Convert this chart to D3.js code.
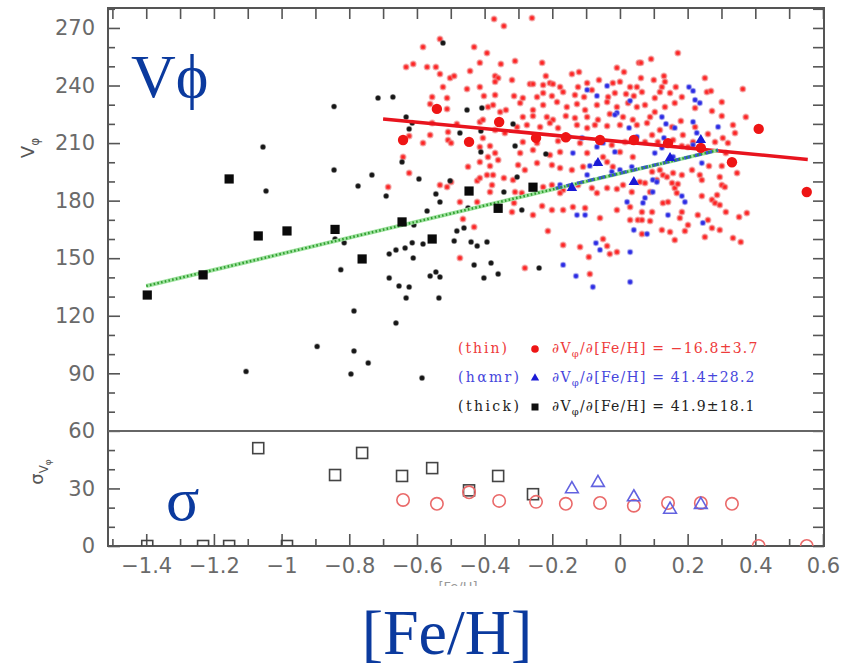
<!DOCTYPE html>
<html>
<head>
<meta charset="utf-8">
<script src="https://cdn.jsdelivr.net/npm/d3@7/dist/d3.min.js"></script>
<style>
  body { margin: 0; background: #fff; }
  svg { display: block; }
</style>
</head>
<body>
<div id="chart"></div>
<script>
// ---- data ([Fe/H], V_phi in km/s) ----
const xTickValues = [-1.4, -1.2, -1, -0.8, -0.6, -0.4, -0.2, 0, 0.2, 0.4, 0.6];
const xTickLabels = ["−1.4", "−1.2", "−1", "−0.8", "−0.6", "−0.4", "−0.2", "0", "0.2", "0.4", "0.6"];
const xMinorValues = [-1.5, -1.3, -1.1, -0.9, -0.7, -0.5, -0.3, -0.1, 0.1, 0.3, 0.5];
const yTickValues = [0, 30, 60, 90, 120, 150, 180, 210, 240, 270];
const yMinorValues = [10, 20, 40, 50, 70, 80, 100, 110, 130, 140, 160, 170, 190, 200, 220, 230, 250, 260, 280];

// thin disc stars (small red dots)
const thinStars = [
  [-0.372,274.7],[-0.343,271.0],[-0.532,264.3],[-0.582,260.1],[-0.431,260.1],[-0.393,257.0],[-0.414,251.8],[-0.352,251.2],
  [-0.632,249.7],[-0.611,251.2],[-0.570,249.7],[-0.544,249.7],[-0.532,246.0],[-0.502,243.9],[-0.490,245.0],[-0.443,247.6],
  [-0.369,245.0],[-0.360,243.9],[-0.369,241.9],[-0.523,239.2],[-0.452,238.2],[-0.414,239.2],[-0.555,234.0],[-0.511,233.5],
  [-0.402,234.6],[-0.369,235.1],[-0.561,230.4],[-0.511,227.8],[-0.375,229.9],[-0.390,228.8],[-0.354,226.2],[-0.337,227.3],
  [-0.555,220.5],[-0.482,220.0],[-0.414,221.0],[-0.405,222.1],[-0.561,214.2],[-0.508,215.8],[-0.369,216.8],[-0.340,215.3],
  [-0.623,213.7],[-0.582,210.1],[-0.508,211.6],[-0.499,210.1],[-0.405,212.7],[-0.384,208.5],[-0.369,204.8],[-0.390,202.8],
  [-0.360,201.2],[-0.414,208.0],[-0.641,202.8],
  [-0.623,194.4],[-0.685,187.1],[-0.532,188.2],[-0.511,187.1],[-0.499,189.7],[-0.449,197.6],[-0.414,200.2],[-0.384,198.1],
  [-0.422,190.3],[-0.414,191.8],[-0.393,193.4],[-0.375,193.4],[-0.378,188.2],[-0.384,184.5],[-0.343,191.8],[-0.473,179.3],
  [-0.422,179.3],[-0.464,170.4],[-0.431,166.3],[-0.473,150.1],
  [-0.260,275.2],[-0.310,252.8],[-0.230,251.8],[-0.219,245.0],[-0.142,246.0],[-0.121,247.1],[-0.009,249.2],[0.012,247.1],
  [0.056,251.8],[-0.319,242.9],[-0.266,240.8],[-0.257,240.8],[-0.227,240.3],[-0.207,241.3],[-0.198,240.8],[-0.177,239.2],
  [-0.124,239.2],[-0.097,241.3],[-0.062,242.9],[-0.021,241.3],[0.000,241.9],[0.030,239.2],[0.050,239.2],[-0.313,234.6],
  [-0.287,233.5],[-0.245,234.0],[-0.227,236.1],[-0.201,234.6],[-0.168,236.6],[-0.133,235.1],[-0.106,234.0],[-0.083,237.7],
  [-0.035,234.0],[-0.015,236.1],[0.018,235.6],[0.041,234.6],[-0.295,230.9],[-0.257,227.3],[-0.227,229.9],[-0.186,231.4],
  [-0.157,228.8],[-0.127,230.4],[-0.103,227.3],[-0.068,229.9],[-0.038,231.4],[-0.009,228.8],[0.024,230.9],[0.050,228.8],
  [-0.287,223.6],[-0.257,224.1],[-0.216,223.6],[-0.198,222.1],[-0.160,224.1],[-0.133,223.1],[-0.097,223.6],[-0.065,222.1],
  [-0.030,225.2],[0.009,223.6],[0.038,222.1],[-0.304,218.4],[-0.275,219.4],[-0.236,218.4],[-0.207,220.5],[-0.183,217.9],
  [-0.127,219.4],[-0.097,217.9],[-0.074,219.4],[-0.038,218.9],[0.000,219.4],[0.050,219.4],[-0.287,210.6],[-0.245,210.1],
  [-0.183,211.1],[-0.118,210.1],[-0.024,209.0],[0.015,210.6],[-0.295,204.8],[-0.257,206.4],[-0.207,203.8],[-0.177,205.4],
  [-0.097,204.8],[-0.050,202.8],[0.000,205.4],[0.038,202.8],
  [0.171,257.0],[0.092,253.8],[0.062,251.8],[0.251,243.9],[0.100,242.9],[0.130,245.0],[0.133,241.9],[0.062,243.9],
  [0.363,238.2],[0.165,239.2],[0.124,239.2],[0.118,236.6],[0.148,236.1],[0.183,234.0],[0.257,236.6],[0.269,237.2],
  [0.301,231.4],[0.065,236.6],[0.103,233.5],[0.074,229.9],[0.133,228.8],[0.162,230.9],[0.222,228.3],[0.272,226.7],
  [0.372,223.6],[0.103,226.2],[0.089,223.6],[0.080,220.5],[0.180,221.5],[0.222,218.4],[0.301,224.1],[0.334,219.4],
  [0.340,215.3],[0.154,218.4],[0.118,216.8],[0.095,214.2],[0.186,214.2],[0.260,214.7],[0.304,212.7],[0.157,211.6],
  [0.216,210.6],[0.281,210.6],[0.319,210.1],[0.074,210.6],[0.112,210.6],[0.183,208.5],[0.201,208.0],[0.313,204.8],
  [-0.301,198.6],[-0.281,196.0],[-0.245,199.6],[-0.201,198.6],[-0.177,197.0],[-0.142,196.0],[-0.109,197.6],[-0.038,200.2],
  [-0.021,197.6],[-0.316,190.8],[-0.310,184.5],[-0.290,184.0],[-0.227,187.1],[-0.201,188.2],[-0.168,185.6],[-0.177,184.0],
  [-0.124,188.2],[-0.083,186.6],[-0.068,184.0],[-0.038,186.6],[-0.009,186.1],[0.009,188.2],[0.035,184.5],[-0.319,174.1],
  [-0.230,177.2],[-0.201,175.1],[-0.168,175.1],[-0.139,176.7],[-0.103,176.2],[-0.059,171.0],[-0.009,175.1],[0.030,176.7],
  [0.053,169.9],[-0.213,164.2],[-0.168,156.9],[-0.118,155.9],[-0.092,150.6],[-0.050,160.0],[-0.038,156.4],[-0.030,152.2],
  [-0.009,153.2],[-0.281,144.9],[-0.089,141.8],[0.030,169.9],[-0.313,178.8],[-0.257,172.5],
  [0.095,195.0],[0.118,196.0],[0.127,193.4],[0.139,192.3],[0.157,194.4],[0.183,193.4],[0.213,196.0],[0.236,193.4],
  [0.263,198.1],[0.301,198.1],[0.346,194.4],[0.059,189.7],[0.074,189.2],[0.109,190.8],[0.154,189.2],[0.162,186.6],
  [0.171,188.7],[0.242,190.8],[0.295,192.3],[0.301,188.2],[0.310,187.1],[0.089,184.5],[0.127,178.8],[0.142,179.3],
  [0.168,184.0],[0.242,182.4],[0.272,180.4],[0.287,183.0],[0.281,178.8],[0.295,177.7],[0.065,174.1],[0.095,174.1],
  [0.183,174.1],[0.230,172.5],[0.313,174.1],[0.375,173.6],[0.065,169.9],[0.089,169.4],[0.177,171.0],[0.201,167.3],
  [0.260,169.9],[0.272,165.8],[0.295,164.7],[0.124,164.7],[0.148,163.7],[0.192,164.2],[0.352,171.5],[0.334,160.5],
  [0.357,158.5],[0.251,161.1],[0.162,159.5],[0.065,162.6]
];

// high-alpha metal-rich stars (small blue dots)
const hamrStars = [
  [-0.038,239.8],[-0.068,234.6],[-0.097,237.7],[-0.009,225.7],[0.027,217.9],[-0.151,213.2],[-0.112,212.7],[-0.139,204.8],
  [-0.068,208.0],[0.050,213.2],[0.204,239.2],[0.216,237.2],[0.222,232.5],[0.236,230.9],[0.124,223.6],[0.136,220.0],
  [0.162,217.9],[0.216,221.0],[0.290,218.4],[0.130,212.7],[0.103,204.8],[0.157,202.8],[-0.177,188.2],[-0.127,172.5],
  [-0.103,172.5],[-0.071,157.9],[-0.059,154.3],[0.030,153.2],[-0.168,146.5],[-0.130,140.7],[-0.080,135.0],[0.030,137.6],
  [0.041,164.7],[0.021,179.3],[-0.097,193.4],[-0.068,199.6],[0.000,196.0],[0.242,199.6],[0.097,190.8],[0.109,189.7],
  [0.097,184.5],[0.074,181.4],[0.183,182.4],[0.192,179.3],[0.142,172.5],[0.245,168.4],[0.080,162.6],[0.068,178.8],
  [-0.089,198.1],[-0.024,195.0],[0.035,197.6],[-0.050,210.1],[-0.015,205.4],[0.124,207.5],[0.216,209.0],[0.227,215.3],
  [0.030,232.0],[-0.015,224.7]
];

// thick disc stars (small black dots)
const thickStars = [
  [-1.055,208.0],[-1.046,185.0],[-1.105,91.0],[-0.895,104.0],[-0.845,229.0],[-0.845,196.0],[-0.825,144.0],[-0.815,158.0],
  [-0.842,160.0],[-0.786,122.5],[-0.786,101.6],[-0.795,89.6],[-0.744,95.4],[-0.774,187.6],[-0.733,193.4],[-0.715,233.5],
  [-0.671,234.0],[-0.691,182.4],[-0.682,152.2],[-0.662,154.3],[-0.682,139.7],[-0.653,135.5],[-0.623,135.0],[-0.632,129.3],
  [-0.662,116.2],[-0.585,87.6],[-0.635,155.3],[-0.614,158.0],[-0.611,150.1],[-0.644,200.2],[-0.632,223.6],[-0.623,217.4],
  [-0.614,220.5],[-0.594,191.3],[-0.570,174.6],[-0.609,167.3],[-0.582,157.4],[-0.561,140.7],[-0.544,142.8],[-0.532,140.2],
  [-0.535,129.3],[-0.544,183.5],[-0.532,179.3],[-0.502,190.3],[-0.482,164.2],[-0.461,165.8],[-0.490,159.0],[-0.440,158.5],
  [-0.422,156.4],[-0.393,158.5],[-0.431,146.5],[-0.381,147.5],[-0.360,141.8],[-0.402,139.7],[-0.449,176.2],[-0.343,184.5],
  [-0.523,262.2],[-0.452,227.3],[-0.408,228.3],[-0.316,220.0],[-0.473,215.3],[-0.411,205.4],[-0.310,208.5],[-0.219,204.3],
  [-0.304,192.3],[-0.290,175.1],[-0.239,144.9],[-0.411,216.3]
];

// binned means (big symbols, top) and dispersions (open symbols, bottom)
const thinBinFeH   = [-0.641, -0.541, -0.446, -0.357, -0.248, -0.160, -0.059, 0.041, 0.142, 0.239, 0.331, 0.410, 0.552];
const thinBinV     = [211.6, 227.8, 210.6, 221.0, 212.7, 213.0, 211.6, 211.6, 210.0, 207.5, 200.0, 217.4, 184.5];
const thinBinSigma = [24.0, 22.0, 28.0, 23.5, 23.0, 22.0, 22.4, 21.0, 22.4, 22.4, 22.0, 0, 0];

const hamrBinFeH   = [-0.142, -0.065, 0.041, 0.148, 0.239];
const hamrBinV     = [186.6, 199.6, 189.7, 202.2, 211.6];
const hamrBinSigma = [29.7, 33.0, 25.5, 19.0, 21.5];

const thickBinFeH   = [-1.397, -1.232, -1.155, -1.069, -0.984, -0.842, -0.762, -0.644, -0.555, -0.446, -0.360, -0.257];
const thickBinV     = [130.8, 141.3, 191.3, 161.6, 164.2, 165.0, 149.6, 168.9, 160.0, 185.0, 176.0, 187.0];
const thickBinSigma = [0, 0, 0, 51.0, 0, 37.0, 48.5, 36.5, 40.6, 29.0, 36.5, 27.0];

// linear fits: [intercept, slope] and [Fe/H] range
const thinFit  = { coef: [210.8, -16.8], range: [-0.70, 0.555] };
const hamrFit  = { coef: [194.3, 41.4], range: [-0.19, 0.29] };
const thickFit = { coef: [194.2, 41.9], range: [-1.40, 0.29] };

const legendNames  = ["(thin)", "(hαmr)", "(thick)"];
const legendSlopes = ["−16.8±3.7", "41.4±28.2", "41.9±18.1"];
const legendColors = ["#ee3b3b", "#4646dc", "#222"];

// ---- layout ----
const width = 861, height = 667;
const frame = { left: 108, right: 824, top: 8, bottom: 546 };

const svg = d3.select('#chart').append('svg')
  .attr('width', width)
  .attr('height', height)
  .attr('viewBox', `0 0 ${width} ${height}`);

const xScale = d3.scaleLinear().domain([-1.513, 0.603]).range([frame.left, frame.right]);
const yScale = d3.scaleLinear().domain([0, 280.4]).range([frame.bottom, frame.top]);

svg.append('defs').append('clipPath').attr('id', 'plot-clip')
  .append('rect')
  .attr('x', frame.left).attr('y', frame.top)
  .attr('width', frame.right - frame.left)
  .attr('height', frame.bottom - frame.top);

const tickColor = '#555';
const labelFont = "'DejaVu Sans', sans-serif";

function styleAxis(g) {
  g.select('.domain').remove();
  g.selectAll('line').attr('stroke', tickColor).attr('stroke-width', 1.6);
  g.selectAll('text')
    .attr('fill', '#6a6a6a')
    .style('font-family', labelFont)
    .style('font-size', '21px');
}

// bottom axis (labels + major ticks), minor ticks
svg.append('g')
  .attr('transform', `translate(0,${frame.bottom})`)
  .call(d3.axisBottom(xScale).tickValues(xTickValues)
    .tickFormat((d, i) => xTickLabels[i]).tickSizeInner(-12).tickSizeOuter(0).tickPadding(12))
  .call(styleAxis);
svg.append('g')
  .attr('transform', `translate(0,${frame.bottom})`)
  .call(d3.axisBottom(xScale).tickValues(xMinorValues).tickFormat('').tickSizeInner(-7).tickSizeOuter(0))
  .call(styleAxis);

// top axis, ticks only
svg.append('g')
  .attr('transform', `translate(0,${frame.top})`)
  .call(d3.axisTop(xScale).tickValues(xTickValues.concat(xMinorValues)).tickFormat('').tickSizeInner(-11).tickSizeOuter(0))
  .call(styleAxis);

// left axis
svg.append('g')
  .attr('transform', `translate(${frame.left},0)`)
  .call(d3.axisLeft(yScale).tickValues(yTickValues).tickSizeInner(-12).tickSizeOuter(0).tickPadding(13))
  .call(styleAxis);
svg.append('g')
  .attr('transform', `translate(${frame.left},0)`)
  .call(d3.axisLeft(yScale).tickValues(yMinorValues).tickFormat('').tickSizeInner(-7).tickSizeOuter(0))
  .call(styleAxis);

// right axis, ticks only
svg.append('g')
  .attr('transform', `translate(${frame.right},0)`)
  .call(d3.axisRight(yScale).tickValues(yTickValues.concat(yMinorValues)).tickFormat('').tickSizeInner(-11).tickSizeOuter(0))
  .call(styleAxis);

// frame + panel divider at 60
svg.append('rect')
  .attr('x', frame.left).attr('y', frame.top)
  .attr('width', frame.right - frame.left).attr('height', frame.bottom - frame.top)
  .attr('fill', 'none').attr('stroke', tickColor).attr('stroke-width', 2);
svg.append('line')
  .attr('x1', frame.left).attr('x2', frame.right)
  .attr('y1', yScale(60)).attr('y2', yScale(60))
  .attr('stroke', '#666').attr('stroke-width', 2);

// ---- marks ----
const plot = svg.append('g').attr('clip-path', 'url(#plot-clip)');

plot.append('g').selectAll('circle')
  .data(thinStars).join('circle')
  .attr('cx', d => xScale(d[0])).attr('cy', d => yScale(d[1]))
  .attr('r', 2.5)
  .attr('fill', '#f22')
  .attr('stroke', 'rgba(238,120,120,0.55)').attr('stroke-width', 2);

plot.append('g').selectAll('circle')
  .data(hamrStars).join('circle')
  .attr('cx', d => xScale(d[0])).attr('cy', d => yScale(d[1]))
  .attr('r', 2.4)
  .attr('fill', '#2a2ae6')
  .attr('stroke', 'rgba(120,120,230,0.5)').attr('stroke-width', 1.6);

plot.append('g').selectAll('circle')
  .data(thickStars).join('circle')
  .attr('cx', d => xScale(d[0])).attr('cy', d => yScale(d[1]))
  .attr('r', 2.5)
  .attr('fill', '#151515')
  .attr('stroke', 'rgba(90,90,90,0.4)').attr('stroke-width', 1.2);

// fit lines
const fitLine = d3.line().x(d => xScale(d[0])).y(d => yScale(d[1]));
const fitPoints = f => f.range.map(v => [v, f.coef[0] + f.coef[1] * v]);

plot.append('path').datum(fitPoints(thinFit))
  .attr('d', fitLine).attr('stroke', '#e8141e').attr('stroke-width', 3.5).attr('fill', 'none');
plot.append('path').datum(fitPoints(thickFit))
  .attr('d', fitLine).attr('stroke', '#9fe29f').attr('stroke-width', 4).attr('fill', 'none');
plot.append('path').datum(fitPoints(hamrFit))
  .attr('d', fitLine).attr('stroke', '#3b55d6').attr('stroke-width', 3.2)
  .attr('stroke-dasharray', '7,4').attr('fill', 'none');
plot.append('path').datum(fitPoints(thickFit))
  .attr('d', fitLine).attr('stroke', '#2f9e2f').attr('stroke-width', 2.4)
  .attr('stroke-dasharray', '1.6,2.2').attr('fill', 'none');

// binned means
const thickBins = thickBinFeH.map((f, i) => ({ feh: f, v: thickBinV[i], s: thickBinSigma[i] }));
const thinBins = thinBinFeH.map((f, i) => ({ feh: f, v: thinBinV[i], s: thinBinSigma[i] }));
const hamrBins = hamrBinFeH.map((f, i) => ({ feh: f, v: hamrBinV[i], s: hamrBinSigma[i] }));

plot.append('g').selectAll('rect')
  .data(thickBins).join('rect')
  .attr('x', d => xScale(d.feh) - 4.6).attr('y', d => yScale(d.v) - 4.6)
  .attr('width', 9.2).attr('height', 9.2).attr('fill', '#0a0a0a');

plot.append('g').selectAll('circle')
  .data(thinBins).join('circle')
  .attr('cx', d => xScale(d.feh)).attr('cy', d => yScale(d.v))
  .attr('r', 5.2).attr('fill', '#ee1515');

const triUp = d3.symbol(d3.symbolTriangle);
plot.append('g').selectAll('path')
  .data(hamrBins).join('path')
  .attr('transform', d => `translate(${xScale(d.feh)},${yScale(d.v)})`)
  .attr('d', triUp.size(48)())
  .attr('fill', '#1a1ad6');

// dispersions (lower panel)
plot.append('g').selectAll('rect')
  .data(thickBins).join('rect')
  .attr('x', d => xScale(d.feh) - 5.5).attr('y', d => yScale(d.s) - 5.5)
  .attr('width', 11).attr('height', 11)
  .attr('fill', 'none').attr('stroke', '#444').attr('stroke-width', 1.6);

plot.append('g').selectAll('circle')
  .data(thinBins).join('circle')
  .attr('cx', d => xScale(d.feh)).attr('cy', d => yScale(d.s))
  .attr('r', 6.2)
  .attr('fill', 'none').attr('stroke', '#ea6a6a').attr('stroke-width', 1.6);

plot.append('g').selectAll('path')
  .data(hamrBins).join('path')
  .attr('transform', d => `translate(${xScale(d.feh)},${yScale(d.s)})`)
  .attr('d', triUp.size(70)())
  .attr('fill', 'none').attr('stroke', '#6262e0').attr('stroke-width', 1.6);

// ---- legend ----
const legend = svg.append('g')
  .style('font-family', "'DejaVu Serif', serif")
  .style('font-size', '14px');

legendNames.forEach((name, i) => {
  const yy = 353 + i * 29;
  const col = legendColors[i];
  legend.append('text')
    .attr('x', 458).attr('y', yy)
    .attr('fill', col)
    .attr('textLength', i === 0 ? 49 : 61)
    .attr('lengthAdjust', 'spacing')
    .text(name);
  if (i === 0) {
    legend.append('circle').attr('cx', 535).attr('cy', yy - 4).attr('r', 3.8).attr('fill', '#ee1515');
  } else if (i === 1) {
    legend.append('path').attr('transform', `translate(535,${yy - 4})`)
      .attr('d', triUp.size(30)()).attr('fill', '#1a1ad6');
  } else {
    legend.append('rect').attr('x', 531.5).attr('y', yy - 7.5).attr('width', 7).attr('height', 7).attr('fill', '#111');
  }
  const eq = legend.append('text')
    .attr('x', 552).attr('y', yy)
    .attr('fill', col)
    .style('letter-spacing', '1.2px');
  eq.append('tspan').text('∂V');
  eq.append('tspan').attr('dy', 4).style('font-size', '10px').text('φ');
  eq.append('tspan').attr('dy', -4).text('/∂[Fe/H] = ' + legendSlopes[i]);
});

// ---- axis titles ----
const vLabel = svg.append('text')
  .attr('transform', 'translate(34,148) rotate(-90)')
  .attr('text-anchor', 'middle')
  .attr('fill', '#555')
  .style('font-family', labelFont)
  .style('font-size', '18px');
vLabel.append('tspan').text('V');
vLabel.append('tspan').attr('dy', 5).style('font-size', '12px').text('φ');

const sLabel = svg.append('text')
  .attr('transform', 'translate(43,472) rotate(-90)')
  .attr('text-anchor', 'middle')
  .attr('fill', '#555')
  .style('font-family', labelFont)
  .style('font-size', '18px');
sLabel.append('tspan').text('σ');
sLabel.append('tspan').attr('dy', 5).style('font-size', '12px').text('V');
sLabel.append('tspan').attr('dy', 3).style('font-size', '9px').text('φ');

// small x title, mostly cut off in the original
svg.append('clipPath').attr('id', 'xtitle-clip')
  .append('rect').attr('x', 0).attr('y', 0).attr('width', width).attr('height', 586);
svg.append('text')
  .attr('clip-path', 'url(#xtitle-clip)')
  .attr('x', 458).attr('y', 591)
  .attr('text-anchor', 'middle')
  .attr('fill', '#999')
  .style('font-family', labelFont)
  .style('font-size', '13px')
  .text('[Fe/H]');

// ---- big blue annotations ----
const noteColor = '#0b3a9e';
const notes = svg.append('g')
  .attr('fill', noteColor)
  .style('font-family', "'Liberation Serif', 'Times New Roman', serif")
  .style('font-size', '62px');
notes.append('text').attr('x', 131).attr('y', 97).text('Vϕ');
notes.append('text').attr('x', 166).attr('y', 520).text('σ');
notes.append('text').attr('x', 447).attr('y', 654).attr('text-anchor', 'middle')
  .style('font-size', '64px').text('[Fe/H]');
</script>
</body>
</html>
